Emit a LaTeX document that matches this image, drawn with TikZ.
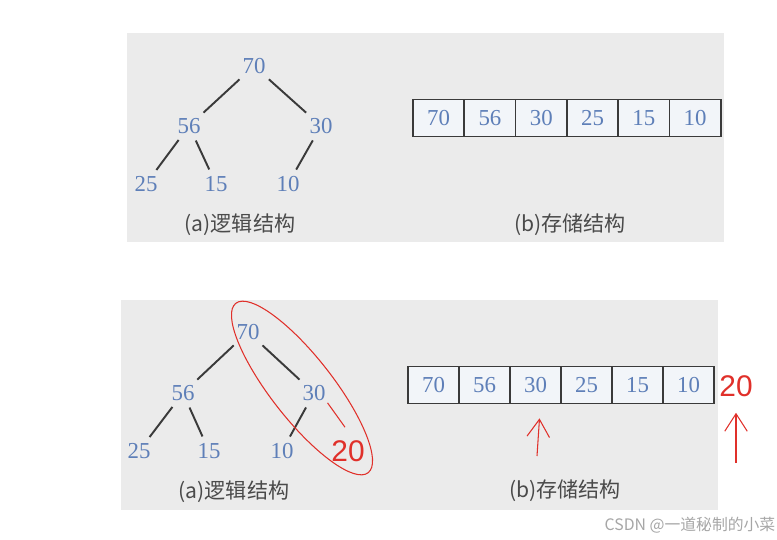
\documentclass[tikz,border=0pt]{standalone}
\usepackage{fontspec}
\setmainfont{Liberation Serif}
\newfontfamily\cjk{Noto Sans CJK SC}
\newfontfamily\redsans{Liberation Sans}
\usepackage{tikz}
\usetikzlibrary{arrows.meta,positioning,calc}
\definecolor{panelgray}{HTML}{EBEBEB}
\definecolor{numblue}{HTML}{5E7FB8}
\definecolor{edgegray}{HTML}{3A3A3A}
\definecolor{capgray}{HTML}{4A4A4A}
\definecolor{markred}{HTML}{E0302A}
\tikzset{
  num/.style={text=numblue, font=\fontsize{13}{15}\selectfont, inner sep=1pt},
  cell/.style={draw=edgegray, line width=1pt, fill=white!92!numblue, minimum width=1.02cm, minimum height=0.74cm, inner sep=0pt, text=numblue, font=\fontsize{13}{15}\selectfont},
  edge/.style={draw=edgegray, line width=1.1pt, shorten <=3pt, shorten >=3pt},
  caption/.style={text=capgray, font=\cjk\fontsize{12}{14}\selectfont},
  redline/.style={draw=markred, line width=0.6pt},
  redtxt/.style={text=markred, font=\redsans\fontsize{17}{19}\selectfont}
}

\begin{document}
\begin{tikzpicture}[x=0.02cm, y=-0.02cm]
  \useasboundingbox (0,0) rectangle (777,540);

  % 上图: 原堆
  \fill[panelgray] (127,33) rectangle (724,242);
  \node[num] (t70) at (254,66) {70};
  \node[num] (t56) at (189,126) {56};
  \node[num] (t30) at (321,126) {30};
  \node[num] (t25) at (146,184) {25};
  \node[num] (t15) at (216,184) {15};
  \node[num] (t10) at (288,184) {10};
  \path[edge] (t70) -- (t56);
  \path[edge] (t70) -- (t30);
  \path[edge] (t56) -- (t25);
  \path[edge] (t56) -- (t15);
  \path[edge] (t30) -- (t10);
  \node[caption] (tcapa) at (240,225) {(a)逻辑结构};
  \foreach \v [count=\i] in {70,56,30,25,15,10}
    \node[cell, minimum width=1.026cm] (ta\i) at ({413+25.65+51.3*(\i-1)},118) {\v};
  \node[caption] (tcapb) at (570,225) {(b)存储结构};

  % 下图: 插入 20
  \fill[panelgray] (121,300) rectangle (718,510);
  \node[num] (b70) at (248,332) {70};
  \node[num] (b56) at (183,393) {56};
  \node[num] (b30) at (314,393) {30};
  \node[num] (b25) at (139,451) {25};
  \node[num] (b15) at (209,451) {15};
  \node[num] (b10) at (282,451) {10};
  \path[edge] (b70) -- (b56);
  \path[edge] (b70) -- (b30);
  \path[edge] (b56) -- (b25);
  \path[edge] (b56) -- (b15);
  \path[edge] (b30) -- (b10);
  \node[caption] (bcapa) at (234,492) {(a)逻辑结构};
  \foreach \v [count=\i] in {70,56,30,25,15,10}
    \node[cell] (ba\i) at ({408+25.5+51*(\i-1)},385) {\v};
  \node[caption] (bcapb) at (565,491) {(b)存储结构};

  % 红色标记
  \node[redtxt] (n20) at (348,451) {20};
  \node[redtxt] (a20) at (736,386) {20};
  \draw[redline] (b30.south east) -- ($(n20.north)+(-3,-7)$);
  \draw[redline, rotate around={-52:(302,388)}] (302,388) ellipse [x radius=2.15cm, y radius=0.62cm];
  \coordinate (p1) at (537,456);
  \coordinate (p2) at (736,463);
  \draw[redline, -{Straight Barb[length=3.5mm, width=4.5mm]}] (p1) -- ($(ba3.south)+(4,14)$);
  \draw[redline, -{Straight Barb[length=3.5mm, width=4.5mm]}] (p2) -- ($(a20.south)+(0,10)$);

  % 水印
  \node[text=black!35, font=\cjk\fontsize{9}{11}\selectfont] (wm) at (690,525) {CSDN @一道秘制的小菜};
\end{tikzpicture}
\end{document}
